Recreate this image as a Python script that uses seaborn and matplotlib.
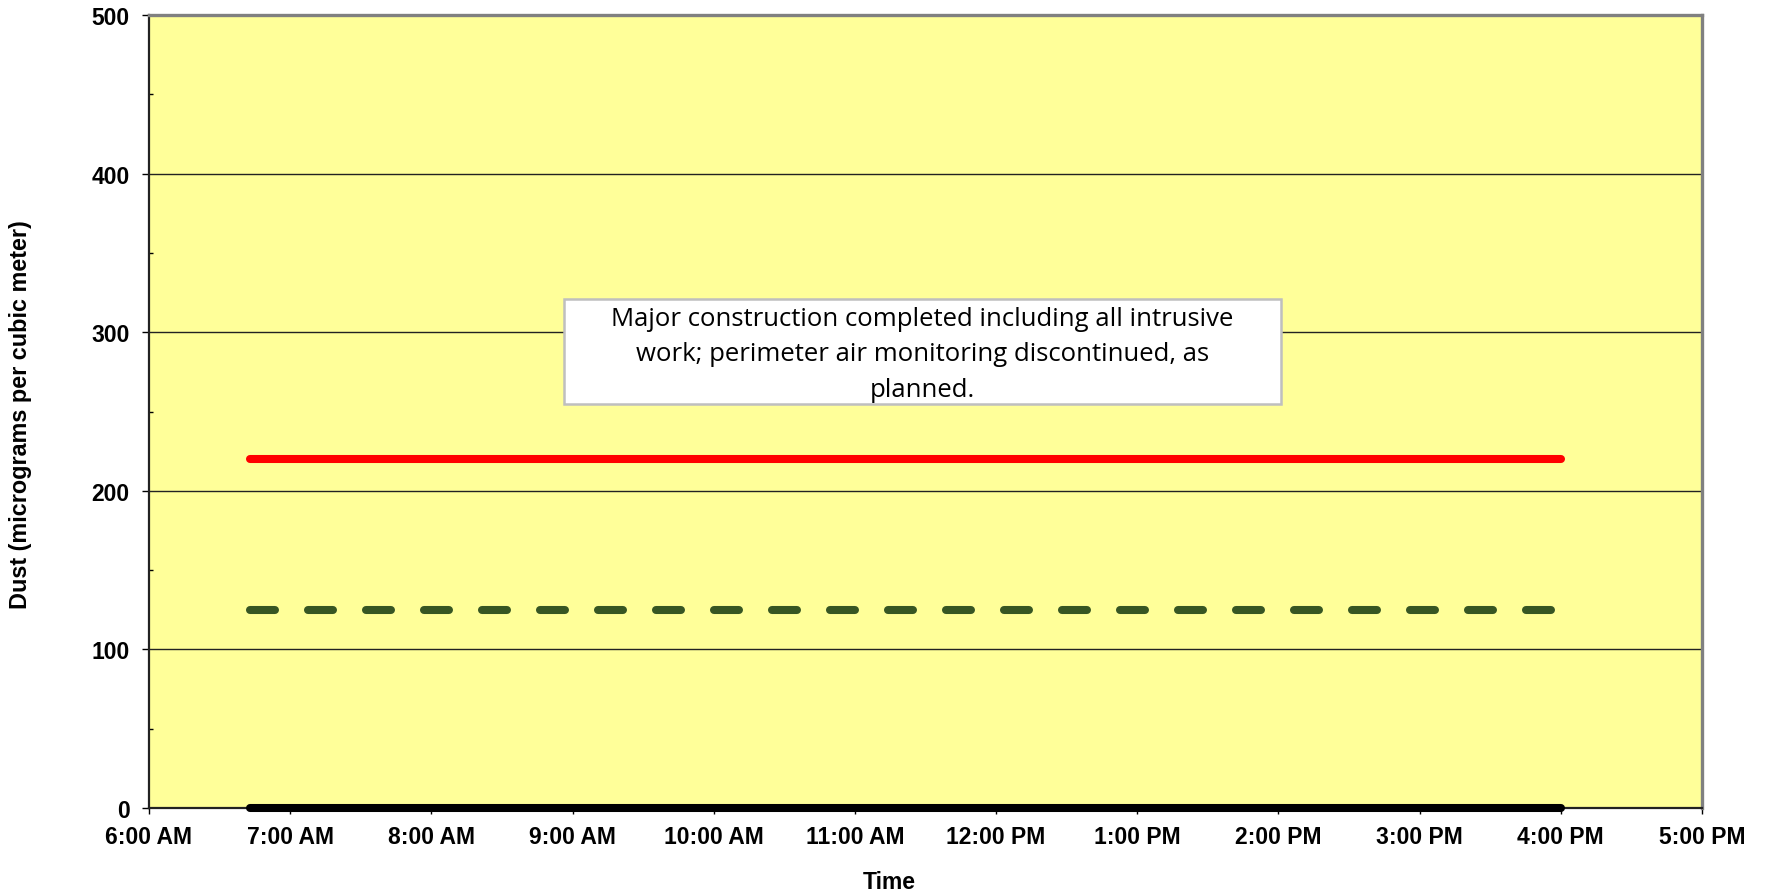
#!/usr/bin/env python3

import numpy as np
import pandas as pd
import matplotlib
matplotlib.use('Agg')
import matplotlib.pyplot as plt
import seaborn as sns
from matplotlib.patches import Rectangle
from matplotlib.ticker import MultipleLocator, FixedLocator


SET_DPI = 100
FIGSIZE = (17.67, 8.95)

# readings over the working day (times as HH:MM)
TIMES = ['06:43', '16:00']
DUST = [0, 0]
ACTION_LEVEL = [220, 220]
BACKGROUND = [125, 125]

TICK_HOURS = [6, 7, 8, 9, 10, 11, 12, 13, 14, 15, 16, 17]
TICK_LABELS = ['6:00 AM', '7:00 AM', '8:00 AM', '9:00 AM', '10:00 AM', '11:00 AM',
               '12:00 PM', '1:00 PM', '2:00 PM', '3:00 PM', '4:00 PM', '5:00 PM']
Y_TICKS = [0, 100, 200, 300, 400, 500]

NOTE = ('Major construction completed including all intrusive\n'
        'work; perimeter air monitoring discontinued, as\n'
        'planned.')

BG = '#FFFF99'


def to_hours(t):
    h, m = t.split(':')
    return int(h) + int(m) / 60.0


sns.set_style('ticks')
plt.rcParams['font.family'] = ['Liberation Sans', 'DejaVu Sans']
plt.rcParams['text.color'] = 'black'
plt.rcParams['axes.labelcolor'] = 'black'
plt.rcParams['xtick.color'] = 'black'
plt.rcParams['ytick.color'] = 'black'

hours = [to_hours(t) for t in TIMES]
df = pd.DataFrame({'hour': hours, 'dust': DUST,
                   'action': ACTION_LEVEL, 'background': BACKGROUND})

fig = plt.figure(figsize=FIGSIZE, dpi=SET_DPI)
ax = fig.add_axes([0.0843, 0.0961, 0.9632 - 0.0843, 0.9821 - 0.0961])
ax.set_facecolor(BG)

sns.lineplot(x='hour', y='action', data=df, ax=ax, color='#FF0000',
             linewidth=5.8, solid_capstyle='round', zorder=4)
sns.lineplot(x='hour', y='background', data=df, ax=ax, color='#375623',
             linewidth=5.8, linestyle=(0, (3.1, 4.1)), dash_capstyle='round', zorder=4)
sns.lineplot(x='hour', y='dust', data=df, ax=ax, color='black',
             linewidth=5.8, solid_capstyle='round', clip_on=False, zorder=5)

ax.set_xlim(TICK_HOURS[0], TICK_HOURS[-1])
ax.set_ylim(0, 500)
ax.xaxis.set_major_locator(FixedLocator(TICK_HOURS))
ax.set_xticklabels(TICK_LABELS)
ax.yaxis.set_major_locator(FixedLocator(Y_TICKS))
ax.yaxis.set_minor_locator(MultipleLocator(50))

for y in Y_TICKS[1:-1]:
    ax.axhline(y, color='#222222', linewidth=1.0, zorder=1)

ax.tick_params(axis='both', which='major', labelsize=16.5, width=1.0, color='black',
               labelcolor='black', direction='out')
ax.tick_params(axis='y', which='major', length=5, pad=9)
ax.tick_params(axis='x', which='major', length=4, pad=8)
ax.tick_params(axis='y', which='minor', direction='in', length=3, width=1.0)
for lab in ax.get_xticklabels() + ax.get_yticklabels():
    lab.set_fontweight('bold')

for side in ['left', 'bottom']:
    ax.spines[side].set_color('#222222')
    ax.spines[side].set_linewidth(1.6)
for side in ['top', 'right']:
    ax.spines[side].set_visible(True)
    ax.spines[side].set_color('#808080')
    ax.spines[side].set_linewidth(2.4)

ax.set_xlabel('Time', fontsize=16.5, fontweight='bold')
ax.set_ylabel('Dust (micrograms per cubic meter)', fontsize=16.8, fontweight='bold')
ax.xaxis.set_label_coords(0.477, -0.078)
ax.yaxis.set_label_coords(-0.075, 0.497)

# note box
ax.add_patch(Rectangle((8.94, 254.7), 14.02 - 8.94, 321 - 254.7, facecolor='white',
                       edgecolor='#BFBFBF', linewidth=1.8, zorder=6))
ax.text(11.48, 286.5, NOTE, ha='center', va='center', fontsize=18.5,
        family=['Open Sans', 'DejaVu Sans'], linespacing=1.55, zorder=7)

fig.savefig('out.png', dpi=SET_DPI)
plt.close('all')
